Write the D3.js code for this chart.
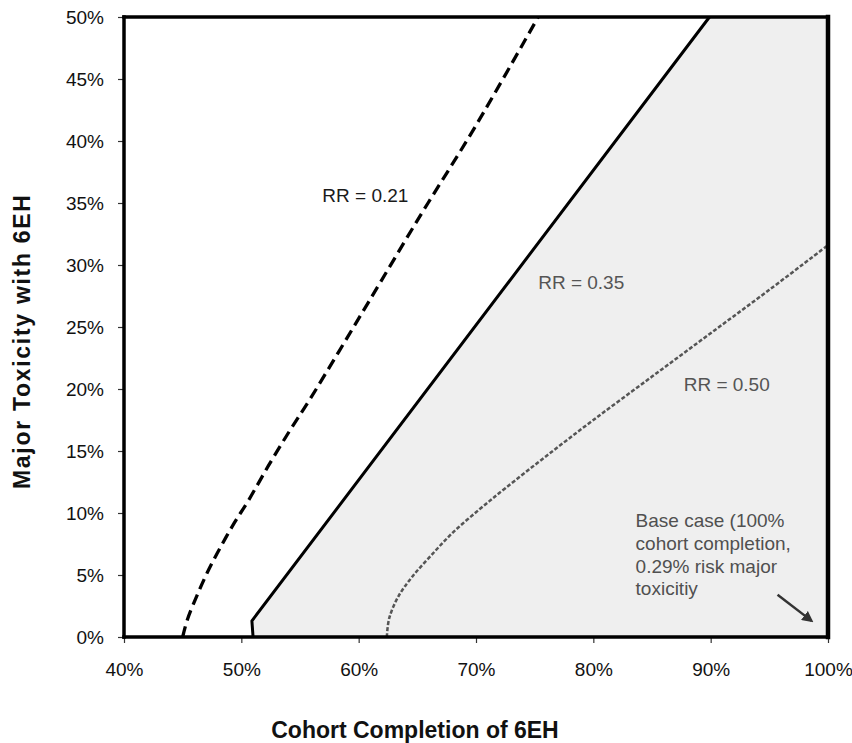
<!DOCTYPE html>
<html>
<head>
<meta charset="utf-8">
<script src="https://cdn.jsdelivr.net/npm/d3@7"></script>
<style>
  html, body { margin: 0; padding: 0; background: #fff; }
  svg { display: block; font-family: "Liberation Sans", Arial, sans-serif; }
</style>
</head>
<body>
<svg id="chart" width="852" height="743"></svg>
<script>
// ---- data (percent values) ----
const xTicks = [40, 50, 60, 70, 80, 90, 100];
const yTicks = [0, 5, 10, 15, 20, 25, 30, 35, 40, 45, 50];

// RR = 0.21 (dashed threshold curve): [completion %, toxicity %]
const rr021 = [[45.0,0],[45.4,1.4],[46.2,3.3],[47.1,5.2],[48.2,7.2],[49.4,9.2],[50.6,11.0],
  [52.3,13.8],[54.1,16.6],[55.8,19.1],[58.3,23.0],[60.9,27.1],[65.2,33.9],[69.9,41.1],[75.3,50]];
// RR = 0.35 (solid boundary)
const rr035 = [[51.0,0],[50.9,1.3],[89.9,50]];
// RR = 0.50 (dotted)
const rr050 = [[62.4,0],[62.6,1.5],[63.4,3.3],[64.6,4.9],[66.1,6.5],[68.0,8.4],[70.3,10.3],
  [72.5,12.0],[76,14.6],[80,17.5],[85,21.0],[90,24.5],[95,28.0],[100,31.6]];

const labelTexts = ["RR = 0.21", "RR = 0.35", "RR = 0.50"];
const baseCaseLines = ["Base case (100%", "cohort completion,", "0.29% risk major", "toxicitiy"];
const xTitle = "Cohort Completion of 6EH";
const yTitle = "Major Toxicity with 6EH";

// ---- drawing ----
const svg = d3.select("#chart");
const x = d3.scaleLinear().domain([40, 100]).range([124, 828]);
const y = d3.scaleLinear().domain([0, 50]).range([637, 17]);
const fmt = d => d + "%";

// shaded region (right of RR = 0.35)
const shade = rr035.concat([[100, 50], [100, 0]]);
svg.append("path")
  .attr("d", d3.line().x(d => x(d[0])).y(d => y(d[1]))(shade) + "Z")
  .attr("fill", "#efefef")
  .attr("stroke", "#777").attr("stroke-width", 1.5);

// axes
const yAxis = d3.axisLeft(y).tickValues(yTicks).tickFormat(fmt).tickSize(6).tickPadding(14);
const gy = svg.append("g").attr("transform", `translate(${x(40)},0)`).call(yAxis);
const xAxis = d3.axisBottom(x).tickValues(xTicks).tickFormat(fmt).tickSize(6).tickPadding(20);
const gx = svg.append("g").attr("transform", `translate(0,${y(0)})`).call(xAxis);
[gx, gy].forEach(g => {
  g.select(".domain").remove();
  g.selectAll("line").attr("stroke", "#333").attr("stroke-width", 1.2);
  g.selectAll("text").attr("font-size", 19).attr("fill", "#111")
    .attr("font-family", "Liberation Sans, Arial, sans-serif");
});

// curves
const curveLine = d3.line().x(d => x(d[0])).y(d => y(d[1])).curve(d3.curveCatmullRom.alpha(0.5));
svg.append("path").attr("d", curveLine(rr021))
  .attr("fill", "none").attr("stroke", "#000").attr("stroke-width", 3.3)
  .attr("stroke-dasharray", "11,6");
svg.append("path").attr("d", curveLine(rr050))
  .attr("fill", "none").attr("stroke", "#555").attr("stroke-width", 2.5)
  .attr("stroke-dasharray", "4,2");
svg.append("path").attr("d", d3.line().x(d => x(d[0])).y(d => y(d[1]))(rr035))
  .attr("fill", "none").attr("stroke", "#000").attr("stroke-width", 3)
  .attr("stroke-linejoin", "round");

// plot frame
const frame = [
  {x1: 40, y1: 50, x2: 100, y2: 50, w: 3.5},
  {x1: 40, y1: 0, x2: 40, y2: 50, w: 3.5},
  {x1: 40, y1: 0, x2: 100, y2: 0, w: 3.5},
  {x1: 100, y1: 0, x2: 100, y2: 50, w: 4.5}
];
svg.selectAll("line.frame").data(frame).enter().append("line")
  .attr("class", "frame")
  .attr("x1", d => x(d.x1)).attr("y1", d => y(d.y1))
  .attr("x2", d => x(d.x2)).attr("y2", d => y(d.y2))
  .attr("stroke", "#000").attr("stroke-width", d => d.w)
  .attr("stroke-linecap", "square");

// curve labels
const labelPos = [[56.9, 35.1, "#1a1a1a"], [75.3, 28.1, "#555"], [87.7, 19.8, "#555"]];
labelTexts.forEach((t, i) => {
  svg.append("text").attr("x", x(labelPos[i][0])).attr("y", y(labelPos[i][1]))
    .attr("font-size", 19).attr("fill", labelPos[i][2]).text(t);
});

// base case annotation
const bc = svg.append("text").attr("font-size", 19).attr("fill", "#505050");
const bcY = [8.9, 7.0, 5.2, 3.35];
baseCaseLines.forEach((t, i) => {
  bc.append("tspan").attr("x", x(83.6)).attr("y", y(bcY[i])).text(t);
});

// arrow
svg.append("defs").append("marker")
  .attr("id", "arrowhead").attr("viewBox", "0 0 10 10")
  .attr("refX", 8).attr("refY", 5).attr("markerWidth", 4.5).attr("markerHeight", 4.5)
  .attr("orient", "auto")
  .append("path").attr("d", "M0,0 L10,5 L0,10 Z").attr("fill", "#333");
svg.append("line")
  .attr("x1", x(95.7)).attr("y1", y(3.4)).attr("x2", x(98.6)).attr("y2", y(1.3))
  .attr("stroke", "#333").attr("stroke-width", 2.5).attr("marker-end", "url(#arrowhead)");

// axis titles
svg.append("text").attr("x", 415).attr("y", 738).attr("text-anchor", "middle")
  .attr("font-size", 23).attr("font-weight", "bold").attr("fill", "#111").text(xTitle);
svg.append("text").attr("transform", "translate(29.5,342) rotate(-90)")
  .attr("text-anchor", "middle")
  .attr("textLength", 294).attr("lengthAdjust", "spacing")
  .attr("font-size", 23).attr("font-weight", "bold").attr("fill", "#111").text(yTitle);
</script>
</body>
</html>
